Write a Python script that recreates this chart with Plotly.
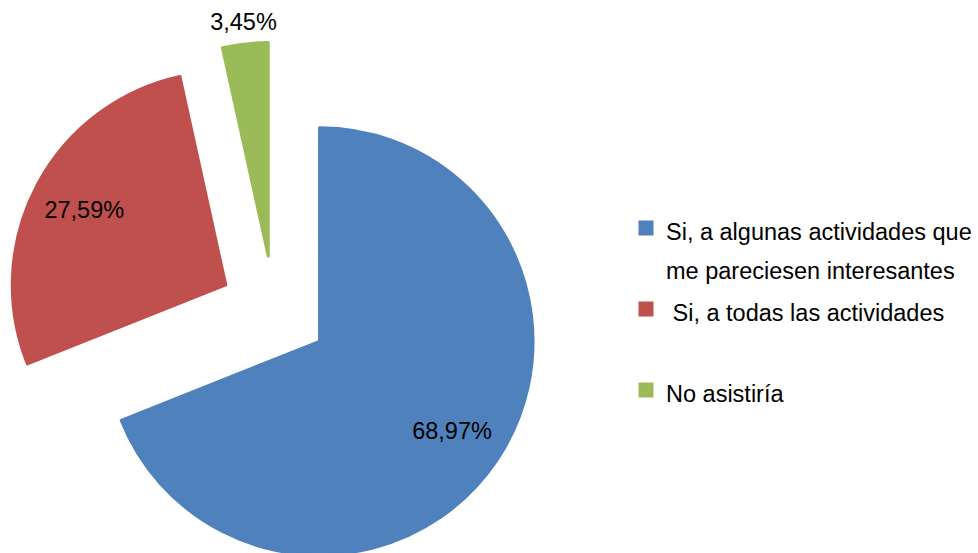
import plotly.graph_objects as go

# ---------------- data ----------------
categories = [
    "Si, a algunas actividades que me pareciesen interesantes",
    "Si, a todas las actividades",
    "No asistiría",
]
counts = [20, 8, 1]                      # 68,97 % / 27,59 % / 3,45 %
colors = ["#4F81BD", "#C0504D", "#9BBB59"]

# legend text (same wording as the reference, wrapped the same way)
TXT = "font-size:23.5px"
legend_labels = [
    f'<span style="{TXT}">Si, a algunas actividades que</span><br>'
    f'<span style="{TXT}">me pareciesen interesantes</span>',
    f'<span style="{TXT}">\u00a0Si, a todas las actividades</span><br>\u00a0',
    f'<span style="{TXT}">No asistiría</span>',
]

# ---------------- layout geometry (pixels) ----------------
W, H = 978, 580
R = 213.5            # pie radius
PULL_PX = 54.8       # explosion distance of every slice
pull = PULL_PX / R
half = R * (1 + pull)


def dom(cx, cy):
    return dict(x=[(cx - half) / W, (cx + half) / W],
                y=[1 - (cy + half) / H, 1 - (cy - half) / H])


main_dom = dom(274.2, 310.6)
green_lbl_dom = dom(271.4, 278.1)

FONT = "Liberation Sans, Arial, sans-serif"

fig = go.Figure()

# the pie itself
fig.add_trace(go.Pie(
    labels=legend_labels, values=counts, sort=False, direction="clockwise",
    rotation=0, pull=[pull] * 3, domain=main_dom,
    marker=dict(colors=colors, line=dict(color=colors, width=3)),
    textinfo="none", hoverinfo="label+percent", showlegend=True,
))

# percentage labels for the two big slices
fig.add_trace(go.Pie(
    labels=legend_labels, values=counts, sort=False, direction="clockwise",
    rotation=0, pull=[pull] * 3, domain=main_dom, hole=0.5,
    marker=dict(colors=["rgba(0,0,0,0)"] * 3, line=dict(width=0)),
    texttemplate=["%{percent:.2%}", "%{percent:.2%}", ""],
    textposition="inside", insidetextorientation="horizontal",
    textfont=dict(family=FONT, size=23.5, color="black"),
    hoverinfo="skip", showlegend=False,
))

# percentage label for the small slice (placed just beyond its tip)
fig.add_trace(go.Pie(
    labels=legend_labels, values=counts, sort=False, direction="clockwise",
    rotation=0, pull=[pull] * 3, domain=green_lbl_dom, hole=0.9,
    marker=dict(colors=["rgba(0,0,0,0)"] * 3, line=dict(width=0)),
    texttemplate=["", "", "%{percent:.2%}"],
    textposition="inside", insidetextorientation="horizontal",
    textfont=dict(family=FONT, size=23.5, color="black"),
    hoverinfo="skip", showlegend=False,
))

fig.update_layout(
    width=W, height=H,
    margin=dict(l=0, r=0, t=0, b=0, autoexpand=False),
    paper_bgcolor="white", plot_bgcolor="white",
    separators=",.",
    uniformtext=dict(minsize=23.5, mode="show"),
    font=dict(family=FONT, color="black"),
    legend=dict(
        x=626 / W, xanchor="left", y=1 - 202 / H, yanchor="top",
        font=dict(family=FONT, size=30, color="black"),
        valign="top", bgcolor="rgba(0,0,0,0)", borderwidth=0,
        traceorder="normal",
    ),
)

fig.write_html(
    "out.html",
    config={"displayModeBar": False},
    post_script="document.body.style.margin='0';document.body.style.overflow='hidden';",
)
